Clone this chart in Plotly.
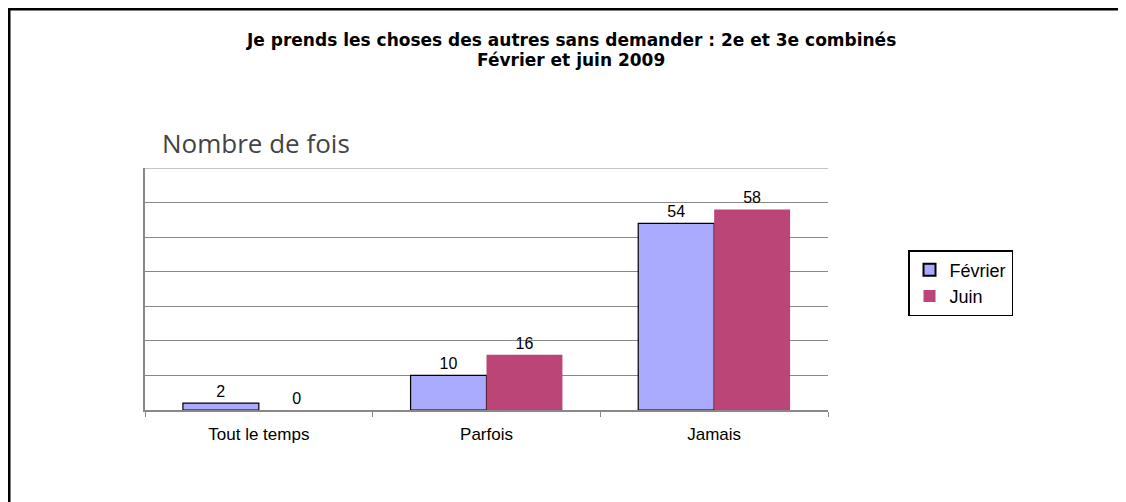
import plotly.graph_objects as go

categories = ["Tout le temps", "Parfois", "Jamais"]
fevrier = [2, 10, 54]
juin = [0, 16, 58]
series_names = ["Février", "Juin"]

OFF = 8  # default body margin of the html page
W, H = 1126 - OFF, 502 - OFF
L, R, T, B = 145 - OFF, 1126 - 828, 168 - OFF, 502 - 410
pw, ph = W - L - R, H - T - B

def px_x(x):  # screen x -> paper
    return (x - OFF - L) / pw

def px_y(y):  # screen y -> paper
    return (H - B - (y - OFF)) / ph

FONT = "Liberation Sans, Arial"

fig = go.Figure()
fig.add_trace(go.Bar(
    x=categories, y=fevrier, name=series_names[0],
    marker=dict(color="#AAAAFF", line=dict(color="black", width=1.2)),
    text=[str(v) for v in fevrier], textposition="outside",
    textfont=dict(family=FONT, size=16, color="black"),
    cliponaxis=False,
))
fig.add_trace(go.Bar(
    x=categories, y=juin, name=series_names[1],
    marker=dict(color="#BB4577", line=dict(width=0)),
    text=[str(v) for v in juin], textposition="outside",
    textfont=dict(family=FONT, size=16, color="black"),
    cliponaxis=False,
))

fig.update_layout(
    width=W, height=H,
    margin=dict(l=L, r=R, t=T, b=B),
    paper_bgcolor="white", plot_bgcolor="white",
    barmode="group", bargap=0.333, bargroupgap=0,
    font=dict(family=FONT, size=16, color="black"),
    showlegend=True,
    legend=dict(
        x=px_x(908), y=px_y(250), xanchor="left", yanchor="top",
        bordercolor="black", borderwidth=1.5, bgcolor="white",
        font=dict(family=FONT, size=18, color="black"),
        itemsizing="constant", itemwidth=30, tracegroupgap=0,
    ),
    xaxis=dict(
        type="category", showgrid=False, showline=True, linecolor="#888888", linewidth=1.5,
        ticks="outside", tickson="boundaries", ticklen=5, tickcolor="#888888",
        tickfont=dict(family=FONT, size=17, color="black"),
        ticklabelstandoff=8,
    ),
    yaxis=dict(
        range=[0, 70], dtick=10, showticklabels=False, showgrid=True,
        gridcolor="#888888", gridwidth=1.2, showline=True, linecolor="#888888",
        linewidth=1.5, zeroline=False, mirror=False,
    ),
)

fig.add_shape(type="line", xref="paper", yref="y", x0=0, x1=1, y0=70, y1=70,
              line=dict(color="#888888", width=1.2))

TFONT = "DejaVu Sans, Liberation Sans"
fig.add_annotation(
    x=px_x(571), y=px_y(40), xref="paper", yref="paper", xanchor="center", yanchor="middle",
    text="<b>Je prends les choses des autres sans demander : 2e et 3e combinés</b>",
    showarrow=False, font=dict(family=TFONT, size=17, color="black"),
)
fig.add_annotation(
    x=px_x(571), y=px_y(60), xref="paper", yref="paper", xanchor="center", yanchor="middle",
    text="<b>Février et juin 2009</b>",
    showarrow=False, font=dict(family=TFONT, size=17, color="black"),
)
fig.add_annotation(
    x=px_x(160), y=px_y(143), xref="paper", yref="paper", xanchor="left", yanchor="middle",
    text="Nombre de fois", showarrow=False,
    font=dict(family="Open Sans, Noto Sans", size=26, color="#444444"),
)

fig.add_shape(type="rect", xref="paper", yref="paper",
              x0=px_x(9), x1=px_x(1140), y0=px_y(9), y1=px_y(520),
              line=dict(color="black", width=3), layer="above")

fig.write_html("out.html")
